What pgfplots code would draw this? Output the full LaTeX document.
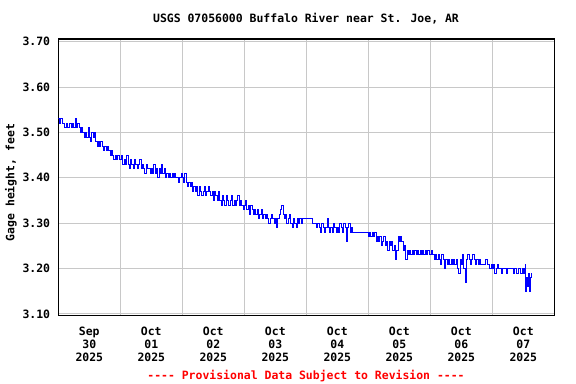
\documentclass[border=0pt]{standalone}
\usepackage{pgfplots}
\pgfplotsset{compat=1.18}
\usepackage{fontspec}
\setmainfont{DejaVu Sans Mono}
\definecolor{gridgray}{RGB}{200,200,200}
\definecolor{usgsblue}{RGB}{0,0,255}
\definecolor{usgsred}{RGB}{255,0,0}
\newcommand{\cf}{\fontsize{11.5}{13.2}\selectfont\bfseries}
\begin{document}
\begin{tikzpicture}
\path[use as bounding box] (0,0) rectangle (576bp,384bp);
\begin{axis}[
  at={(58.3bp,68.3bp)}, anchor=south west,
  scale only axis, width=496bp, height=276.7bp,
  xmin=0, xmax=192, ymin=3.096, ymax=3.706,
  xtick={12,36,60,84,108,132,156,180},
  xticklabels={Sep\\30\\2025,Oct\\01\\2025,Oct\\02\\2025,Oct\\03\\2025,Oct\\04\\2025,Oct\\05\\2025,Oct\\06\\2025,Oct\\07\\2025},
  minor xtick={24,48,72,96,120,144,168},
  xminorgrids=true, xmajorgrids=false,
  ytick={3.10,3.20,3.30,3.40,3.50,3.60,3.70},
  ymajorgrids=true,
  major tick length=0pt, minor tick length=0pt,
  grid style={color=gridgray, line width=0.9bp},
  minor grid style={color=gridgray, line width=0.9bp},
  axis line style={black, line width=1.3bp},
  /pgf/number format/assume math mode=true,
  yticklabel={\pgfmathprintnumber[fixed,precision=2,fixed zerofill]{\tick}},
  yticklabel style={font=\cf, anchor=east, inner sep=0pt, xshift=-8bp},
  xticklabel style={font=\cf, align=center, anchor=north, inner sep=0pt, yshift=-11bp},
  clip=true,
]
\addplot[const plot, color=usgsblue, line width=0.9bp] coordinates {
(0,3.53) (0.5,3.52) (1,3.53) (1.5,3.52) (2,3.52) (2.5,3.51) (3,3.52) (3.5,3.51) (4,3.51) (4.5,3.52) (5,3.51) (5.5,3.52) (6,3.51) (6.5,3.53) (7,3.51) (7.5,3.52) (8,3.51) (8.5,3.50) (9,3.51) (9.5,3.50) (10,3.49) (10.5,3.50) (11,3.49) (11.5,3.51) (12,3.49) (12.5,3.48) (13,3.50) (13.5,3.49) (14,3.50) (14.5,3.48) (15,3.47) (15.5,3.48) (16,3.47) (16.5,3.48) (17,3.47) (17.5,3.46) (18,3.47) (18.5,3.46) (19,3.47) (19.5,3.46) (20,3.45) (20.5,3.46) (21,3.45) (21.5,3.44) (22,3.45) (22.5,3.44) (23,3.45) (23.5,3.44)
(24,3.44) (24.5,3.45) (25,3.43) (25.5,3.44) (26,3.43) (26.5,3.45) (27,3.43) (27.5,3.42) (28,3.44) (28.5,3.43) (29,3.42) (29.5,3.44) (30,3.43) (30.5,3.42) (31,3.43) (31.5,3.44) (32,3.42) (32.5,3.43) (33,3.42) (33.5,3.41) (34,3.43) (34.5,3.42) (35,3.42) (35.5,3.41) (36,3.42) (36.5,3.41) (37,3.43) (37.5,3.41) (38,3.42) (38.5,3.40) (39,3.42) (39.5,3.41) (40,3.43) (40.5,3.41) (41,3.42) (41.5,3.40) (42,3.41) (42.5,3.40) (43,3.41) (43.5,3.40) (44,3.41) (44.5,3.40) (45,3.41) (45.5,3.40) (46,3.40) (46.5,3.39) (47,3.40) (47.5,3.41)
(48,3.40) (48.5,3.39) (49,3.41) (49.5,3.39) (50,3.38) (50.5,3.39) (51,3.38) (51.5,3.39) (52,3.37) (52.5,3.38) (53,3.37) (53.5,3.38) (54,3.36) (54.5,3.38) (55,3.37) (55.5,3.36) (56,3.37) (56.5,3.38) (57,3.36) (57.5,3.37) (58,3.38) (58.5,3.37) (59,3.36) (59.5,3.37) (60,3.35) (60.5,3.37) (61,3.36) (61.5,3.35) (62,3.37) (62.5,3.35) (63,3.34) (63.5,3.36) (64,3.35) (64.5,3.34) (65,3.36) (65.5,3.35) (66,3.34) (66.5,3.35) (67,3.36) (67.5,3.34) (68,3.35) (68.5,3.34) (69,3.35) (69.5,3.36) (70,3.34) (70.5,3.35) (71,3.34) (71.5,3.33)
(72,3.34) (72.5,3.35) (73,3.33) (73.5,3.34) (74,3.32) (74.5,3.34) (75,3.33) (75.5,3.32) (76,3.33) (76.5,3.32) (77,3.33) (77.5,3.31) (78,3.32) (78.5,3.33) (79,3.31) (79.5,3.32) (80,3.31) (80.5,3.32) (81,3.31) (81.5,3.30) (82,3.31) (82.5,3.32) (83,3.31) (83.5,3.30) (84,3.31) (84.5,3.29) (85,3.31) (85.5,3.32) (86,3.33) (86.5,3.34) (87,3.32) (87.5,3.31) (88,3.32) (88.5,3.30) (89,3.31) (89.5,3.32) (90,3.30) (90.5,3.29) (91,3.31) (91.5,3.30) (92,3.29) (92.5,3.31) (93,3.30) (93.5,3.31) (94,3.30) (94.5,3.31) (95,3.31) (95.5,3.31)
(96,3.31) (96.5,3.31) (97,3.31) (97.5,3.31) (98,3.31) (98.5,3.30) (99,3.30) (99.5,3.30) (100,3.29) (100.5,3.30) (101,3.29) (101.5,3.28) (102,3.30) (102.5,3.29) (103,3.28) (103.5,3.29) (104,3.31) (104.5,3.29) (105,3.28) (105.5,3.29) (106,3.28) (106.5,3.30) (107,3.29) (107.5,3.28) (108,3.29) (108.5,3.28) (109,3.30) (109.5,3.29) (110,3.28) (110.5,3.30) (111,3.29) (111.5,3.26) (112,3.29) (112.5,3.30) (113,3.28) (113.5,3.29) (114,3.28) (115,3.28) (116,3.28) (117,3.28) (118,3.28) (119,3.28) (119.5,3.28)
(120,3.27) (120.5,3.28) (121,3.27) (121.5,3.28) (122,3.27) (122.5,3.28) (123,3.26) (123.5,3.27) (124,3.26) (124.5,3.27) (125,3.25) (125.5,3.26) (126,3.27) (126.5,3.25) (127,3.26) (127.5,3.24) (128,3.26) (128.5,3.25) (129,3.26) (129.5,3.24) (130,3.25) (130.5,3.22) (131,3.24) (131.5,3.27) (132,3.26) (132.5,3.27) (133,3.26) (133.5,3.24) (134,3.25) (134.5,3.22) (135,3.24) (135.5,3.23) (136,3.24) (136.5,3.23) (137,3.24) (137.5,3.23) (138,3.24) (138.5,3.23) (139,3.24) (139.5,3.23) (140,3.24) (140.5,3.23) (141,3.24) (141.5,3.23) (142,3.24) (142.5,3.23) (143,3.24) (143.5,3.23)
(144,3.23) (144.5,3.24) (145,3.23) (145.5,3.22) (146,3.23) (146.5,3.22) (147,3.23) (147.5,3.22) (148,3.21) (148.5,3.23) (149,3.22) (149.5,3.20) (150,3.22) (150.5,3.21) (151,3.22) (151.5,3.21) (152,3.22) (152.5,3.21) (153,3.22) (153.5,3.21) (154,3.22) (154.5,3.20) (155,3.19) (155.5,3.22) (156,3.21) (156.5,3.23) (157,3.20) (157.5,3.17) (158,3.22) (158.5,3.23) (159,3.22) (159.5,3.21) (160,3.22) (160.5,3.23) (161,3.22) (161.5,3.21) (162,3.22) (162.5,3.21) (163,3.22) (163.5,3.21) (164,3.21) (164.5,3.21) (165,3.21) (165.5,3.22) (166,3.21) (166.5,3.21) (167,3.20) (167.5,3.21)
(168,3.20) (168.5,3.21) (169,3.19) (169.5,3.20) (170,3.21) (170.5,3.20) (171,3.20) (171.5,3.19) (172,3.20) (172.5,3.20) (173,3.20) (173.5,3.19) (174,3.20) (174.5,3.20) (175,3.20) (175.5,3.20) (176,3.19) (176.5,3.20) (177,3.20) (177.5,3.19) (178,3.20) (178.5,3.20) (179,3.19) (179.5,3.20) (180,3.19) (180.25,3.20) (180.5,3.19) (180.75,3.21) (181,3.15) (181.25,3.18) (181.5,3.17) (181.75,3.16) (182,3.19) (182.25,3.18) (182.5,3.15) (182.75,3.18) (183,3.19)
};
\end{axis}
\node[font=\cf, inner sep=0pt] at (306bp,365bp) {USGS 07056000 Buffalo River near St. Joe, AR};
\node[font=\cf, inner sep=0pt, rotate=90] at (11bp,201.3bp) {Gage height, feet};
\node[font=\cf, inner sep=0pt, text=usgsred] at (306bp,7.5bp) {-{}-{}-{}- Provisional Data Subject to Revision -{}-{}-{}-};
\end{tikzpicture}
\end{document}
